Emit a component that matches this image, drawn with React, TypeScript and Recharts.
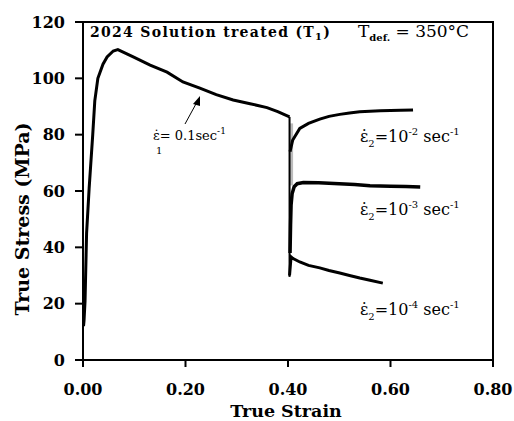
import { LineChart, Line, XAxis, YAxis, ReferenceArea } from "recharts";

// first stage, 0.1 s^-1
const strainMain = [0.001, 0.002, 0.004, 0.007, 0.012, 0.019, 0.023, 0.029, 0.039, 0.047, 0.059, 0.068, 0.098, 0.131, 0.164, 0.195, 0.228, 0.26, 0.293, 0.326, 0.359, 0.38, 0.403];
const stressMain = [12, 14, 21, 45, 61, 80, 92, 100, 105, 107.6, 109.7, 110.2, 107.6, 104.7, 102.2, 98.7, 96.5, 94.2, 92.3, 91, 89.6, 88.2, 86.3];

// unload drop at the strain-rate change
const strainDrop = [0.403, 0.403];
const stressDrop = [86.3, 29.5];
const strainShade = [0.407, 0.407];
const stressShade = [84, 62];

// second stage branches
const strainR2 = [0.404, 0.409, 0.414, 0.423, 0.44, 0.462, 0.48, 0.501, 0.52, 0.54, 0.58, 0.62, 0.644];
const stressR2 = [74, 78, 79.5, 82.2, 84, 85.5, 86.5, 87.2, 87.7, 88.1, 88.5, 88.7, 88.8];
const strainR3 = [0.404, 0.405, 0.406, 0.408, 0.412, 0.418, 0.43, 0.46, 0.5, 0.53, 0.56, 0.6, 0.63, 0.658];
const stressR3 = [38, 48, 55, 59, 61.5, 62.6, 63, 62.9, 62.6, 62.3, 61.9, 61.7, 61.6, 61.4];
const strainR4 = [0.403, 0.406, 0.41, 0.423, 0.44, 0.462, 0.48, 0.501, 0.52, 0.54, 0.56, 0.585];
const stressR4 = [30, 36.6, 36, 34.8, 33.6, 32.7, 31.8, 30.9, 30, 29.1, 28.3, 27.3];

const xTicks = [0, 0.2, 0.4, 0.6, 0.8];
const yTicks = [0, 20, 40, 60, 80, 100, 120];

const zip = (xs: number[], ys: number[]) => xs.map((x, i) => ({ x, y: ys[i] }));

const serif = "DejaVu Serif";
const tickStyle = { fill: "#000", fontSize: 16, fontFamily: serif, fontWeight: "bold" };

function RateLabel({ x, y, exp }: { x: number; y: number; exp: string }) {
  return (
    <text x={x} y={y} fontFamily={serif} fontSize={16} fill="#000">
      <tspan>ε̇</tspan>
      <tspan dx={0} dy={5} fontSize={10}>2</tspan>
      <tspan dy={-5}>=10</tspan>
      <tspan dy={-7} fontSize={10}>{exp}</tspan>
      <tspan dy={7}> sec</tspan>
      <tspan dy={-7} fontSize={10}>-1</tspan>
    </text>
  );
}

export default function App() {
  const line = { type: "linear" as const, dataKey: "y", stroke: "#000", dot: false, isAnimationActive: false };
  return (
    <div style={{ position: "absolute", left: 0, top: 0, width: 514, height: 421, background: "#fff" }}>
      <LineChart width={514} height={421} margin={{ top: 22, right: 21, bottom: 0, left: 0 }}>
        <XAxis
          type="number"
          dataKey="x"
          domain={[0, 0.8]}
          ticks={xTicks}
          tickFormatter={(v: number) => v.toFixed(2)}
          height={61}
          stroke="#000"
          strokeWidth={2}
          tickSize={7}
          tickMargin={17}
          tick={tickStyle}
          allowDataOverflow
        />
        <YAxis
          type="number"
          dataKey="y"
          domain={[0, 120]}
          ticks={yTicks}
          width={83}
          stroke="#000"
          strokeWidth={2}
          tickSize={8}
          tickMargin={10}
          tick={tickStyle}
        />
        <ReferenceArea x1={0} x2={0.8} y1={0} y2={120} fill="none" stroke="#000" strokeWidth={2} />
        <Line {...line} data={zip(strainShade, stressShade)} stroke="#bbb" strokeWidth={3} />
        <Line {...line} data={zip(strainMain, stressMain)} strokeWidth={3} />
        <Line {...line} data={zip(strainDrop, stressDrop)} strokeWidth={2} />
        <Line {...line} data={zip(strainR2, stressR2)} strokeWidth={3} />
        <Line {...line} data={zip(strainR3, stressR3)} strokeWidth={3.5} />
        <Line {...line} data={zip(strainR4, stressR4)} strokeWidth={3} />
      </LineChart>
      <svg width={514} height={421} style={{ position: "absolute", left: 0, top: 0, pointerEvents: "none" }}>
        <text x={90} y={37} fontFamily={serif} fontSize={14} fontWeight="bold" letterSpacing={1.3} fill="#000">
          2024 Solution treated (T<tspan dy={3} fontSize={10}>1</tspan><tspan dy={-3}>)</tspan>
        </text>
        <text x={358} y={37} fontFamily={serif} fontSize={17} fill="#000">
          T<tspan dy={4} fontSize={10} fontWeight="bold">def.</tspan>
          <tspan dy={-4}> = 350°C</tspan>
        </text>
        <text x={153} y={140} fontFamily={serif} fontSize={13} fill="#000">
          ε̇= 0.1sec<tspan dy={-6} fontSize={9}>-1</tspan>
        </text>
        <text x={156} y={154} fontFamily={serif} fontSize={10} fill="#000">1</text>
        <line x1={185} y1={124} x2={197} y2={102} stroke="#000" strokeWidth={1} />
        <polygon points="200,96 193,104 200,106" fill="#000" />
        <RateLabel x={360} y={142} exp="-2" />
        <RateLabel x={360} y={215} exp="-3" />
        <RateLabel x={360} y={315} exp="-4" />
        <text
          x={29}
          y={219}
          transform="rotate(-90 29 219)"
          textAnchor="middle"
          fontFamily={serif}
          fontSize={19}
          fontWeight="bold"
          fill="#000"
        >
          True Stress (MPa)
        </text>
        <text x={286} y={417} textAnchor="middle" fontFamily={serif} fontSize={17.5} fontWeight="bold" fill="#000">
          True Strain
        </text>
      </svg>
    </div>
  );
}
